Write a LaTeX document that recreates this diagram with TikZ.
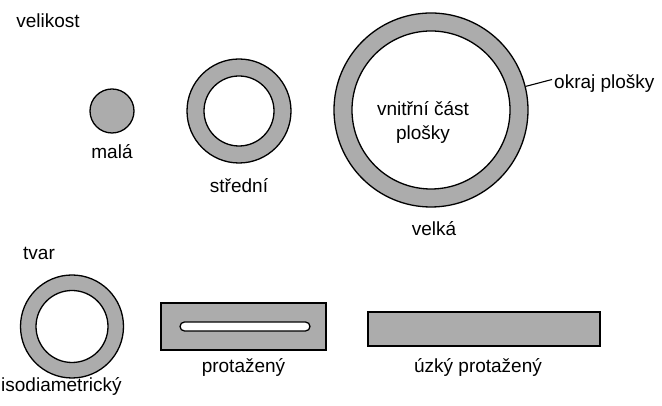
\documentclass[tikz,border=0pt]{standalone}
\usepackage{fontspec}
\setmainfont{Liberation Sans}
\usetikzlibrary{positioning}

\begin{document}
\begin{tikzpicture}[
    x=1pt, y=1pt,
    node distance=12pt,
    every node/.style={font=\fontsize{19}{24}\selectfont},
    label/.style={inner sep=0pt, text height=13pt, text depth=4pt},
    outline/.style={draw, line width=1.3pt},
    rim/.style={outline, circle, fill=gray!65, inner sep=0pt},
    hole/.style={outline, circle, fill=white, inner sep=0pt},
    strip/.style={outline, rectangle, fill=gray!65, inner sep=0pt},
]
\useasboundingbox (0,0) rectangle (662,406);

% velikost
\node[label, anchor=base] (size) at (48,378) {velikost};

\node[rim, minimum size=44pt] (small) at (112,295) {};
\node[label, below=12pt of small] (smalltxt) {malá};

\node[rim, minimum size=104pt] (midout) at (239,295) {};
\node[hole, minimum size=70pt] (midin) at (midout.center) {};
\node[label, below=16pt of midout] (midtxt) {střední};

\node[rim, minimum size=194pt] (bigout) at (431,296) {};
\node[hole, minimum size=158pt] (bigin) at (bigout.center) {};
\node[align=center, inner sep=0pt] (inner) at (423,284) {vnitřní část\\plošky};
\node[label, below=15pt of bigout, xshift=3pt] (bigtxt) {velká};
\node[label, anchor=base west] (edge) at (554,317) {okraj plošky};
\draw[line width=1.1pt] (bigout.14) -- ([xshift=-2pt, yshift=5pt]edge.west);

% tvar
\node[label, anchor=base] (shape) at (39,146) {tvar};

\node[rim, minimum size=103pt] (isoout) at (72,79.5) {};
\node[hole, minimum size=72pt] (isoin) at (isoout.center) {};
\node[label, anchor=base west] (isotxt) at (1,14) {isodiametrický};

\node[strip, minimum width=165pt, minimum height=47pt] (long) at (243.5,79.5) {};
\node[outline, rectangle, fill=white, rounded corners=4.5pt, inner sep=0pt,
      minimum width=130pt, minimum height=9pt] (slot) at (245,79.5) {};
\node[label, below=9pt of long] (longtxt) {protažený};

\node[strip, minimum width=232pt, minimum height=34pt] (thin) at (484,77) {};
\node[label, below=13pt of thin, xshift=-6pt] (thintxt) {úzký protažený};

\end{tikzpicture}
\end{document}
